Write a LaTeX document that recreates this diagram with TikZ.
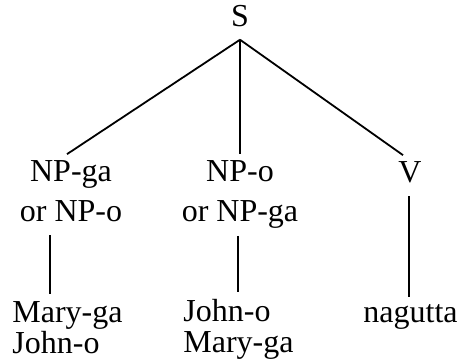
\documentclass[tikz,border=0pt]{standalone}
\usepackage{fontspec}
\setmainfont{Liberation Serif}
\begin{document}
\begin{tikzpicture}[x=0.5pt,y=-0.5pt,
    every node/.style={font=\fontsize{16}{15.5}\selectfont, inner xsep=0pt, inner ysep=3.25pt},
    cat/.style={anchor=base, align=center},
    leaf/.style={anchor=base west, align=left},
    every edge/.style={draw, line width=0.9pt}]
   \useasboundingbox (0,0) rectangle (458,362);
   \node (S)        [cat, inner ysep=6pt] at (240,27)  {S};
   \node (NPga)     [cat] at (71,222)  {NP-ga\\[4.5pt]or NP-o};
   \node (NPo)      [cat] at (240,222) {NP-o\\[4.5pt]or NP-ga};
   \node (V)        [cat] at (410,183) {V};
   \node (MaryJohn) [leaf] at (12,353)  {Mary-ga\\John-o};
   \node (JohnMary) [leaf] at (183,352) {John-o\\Mary-ga};
   \node (nagutta)  [leaf] at (363,322) {nagutta};
   \path
     (S.south) edge ([xshift=-2pt]NPga.north)
     (S.south) edge (S.south |- NPo.north)
     (S.south) edge ([xshift=-3.5pt]V.north)
     ([xshift=-10.5pt]NPga.south) edge [shorten <=3pt] ([xshift=-10.5pt]NPga.south |- MaryJohn.north)
     ([xshift=-1pt]NPo.south)     edge ([xshift=-1pt]NPo.south |- JohnMary.north)
     ([xshift=-0.5pt]V.south)     edge [shorten <=3pt] ([xshift=-0.5pt]V.south |- nagutta.north);
\end{tikzpicture}
\end{document}
